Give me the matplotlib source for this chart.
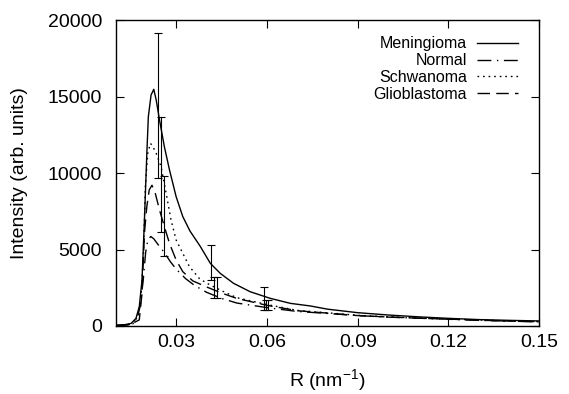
import matplotlib
matplotlib.use("Agg")
import matplotlib.pyplot as plt

plt.rcParams['font.family'] = ['Liberation Sans', 'DejaVu Sans']
plt.rcParams['mathtext.fontset'] = 'custom'
plt.rcParams['mathtext.rm'] = 'Liberation Sans'
plt.rcParams['mathtext.it'] = 'Liberation Sans:italic'
plt.rcParams['lines.scale_dashes'] = False

# --- datos ---
r_men = [0.010, 0.013, 0.015, 0.0166, 0.0177, 0.0186, 0.0194, 0.0202, 0.0207, 0.0216, 0.0225,
         0.0233, 0.0244, 0.026, 0.0277, 0.0299, 0.0321, 0.0345, 0.0379, 0.0412, 0.0445, 0.0489,
         0.0544, 0.061, 0.0677, 0.0743, 0.08, 0.09, 0.10, 0.11, 0.12, 0.13, 0.14, 0.15]
i_men = [50, 90, 170, 500, 1260, 3000, 6900, 11290, 13680, 15100, 15470,
         14770, 13460, 11720, 10200, 8450, 7150, 6200, 5200, 4100, 3440, 2790,
         2240, 1810, 1480, 1310, 1100, 870, 720, 600, 500, 420, 370, 330]

r_nor = [0.010, 0.013, 0.015, 0.017, 0.018, 0.019, 0.0198, 0.0205, 0.0215, 0.0225, 0.024,
         0.026, 0.028, 0.030, 0.033, 0.036, 0.040, 0.045, 0.050, 0.060, 0.070, 0.080,
         0.090, 0.10, 0.11, 0.12, 0.13, 0.14, 0.15]
i_nor = [30, 60, 120, 500, 1300, 3000, 4800, 5600, 5850, 5700, 5300,
         4800, 4200, 3700, 3100, 2650, 2200, 1800, 1500, 1200, 950, 820,
         680, 580, 510, 440, 370, 320, 270]

r_sch = [0.010, 0.013, 0.0155, 0.0172, 0.0183, 0.0191, 0.0197, 0.0205, 0.0214, 0.0222, 0.0233,
         0.0249, 0.0266, 0.0282, 0.0299, 0.0321, 0.0343, 0.0376, 0.040, 0.045, 0.050, 0.060,
         0.070, 0.080, 0.090, 0.10, 0.11, 0.12, 0.13, 0.14, 0.15]
i_sch = [30, 60, 130, 610, 1920, 4750, 9100, 11290, 11940, 11720, 11290,
         10420, 8670, 6930, 5620, 4750, 3880, 3100, 2800, 2300, 1850, 1400,
         1020, 860, 700, 600, 520, 460, 390, 330, 290]

r_gli = [0.010, 0.013, 0.015, 0.0177, 0.0186, 0.0194, 0.0202, 0.021, 0.0219, 0.023, 0.0244,
         0.026, 0.0277, 0.0299, 0.0321, 0.0354, 0.040, 0.045, 0.050, 0.060, 0.070, 0.080,
         0.090, 0.10, 0.11, 0.12, 0.13, 0.14, 0.15]
i_gli = [30, 60, 120, 400, 2130, 6060, 7810, 8900, 9200, 8670, 7580,
         6500, 5400, 4310, 3550, 2950, 2550, 2150, 1800, 1350, 1000, 840,
         680, 590, 510, 450, 380, 320, 280]

# barras de error (r, intensidad, error)
err_r = [0.0238, 0.0249, 0.0260, 0.0415, 0.0425, 0.0434, 0.0590, 0.0598, 0.0604]
err_i = [14400, 9910, 7190, 4150, 2520, 2520, 1800, 1370, 1370]
err_e = [4730, 3750, 2610, 1150, 700, 700, 750, 330, 330]

series = [
    ("Meningioma", r_men, i_men, "-"),
    ("Normal", r_nor, i_nor, (0, (10, 4, 1, 4))),
    ("Schwanoma", r_sch, i_sch, (0, (1.2, 2.8))),
    ("Glioblastoma", r_gli, i_gli, (0, (9, 4.5))),
]

fig = plt.figure(figsize=(5.69, 3.94), dpi=100)
ax = fig.add_axes([0.2039, 0.1726, 0.7434, 0.7766])

for nombre, r, inten, estilo in series:
    ax.plot(r, inten, color="black", linestyle=estilo, linewidth=1.0, label=nombre)

ax.errorbar(err_r, err_i, yerr=err_e, fmt="none", ecolor="black",
            elinewidth=0.8, capsize=3.2, capthick=0.8)

ax.set_xlim(0.01, 0.15)
ax.set_ylim(0, 20000)
ax.set_xticks([0.03, 0.06, 0.09, 0.12, 0.15])
ax.set_xticklabels(["0.03", "0.06", "0.09", "0.12", "0.15"])
ax.set_yticks([0, 5000, 10000, 15000, 20000])
ax.tick_params(direction="in", top=True, right=True, length=5.5, width=0.8,
               labelsize=14, colors="black")
ax.tick_params(axis="x", pad=6)
ax.tick_params(axis="y", pad=10)
for sp in ax.spines.values():
    sp.set_linewidth(1.0)

ax.set_xlabel("R (nm$^{\\mathrm{-1}}$)", fontsize=14, labelpad=11.5)
ax.set_ylabel("Intensity (arb. units)", fontsize=14, labelpad=14)

ax.legend(loc="upper right", bbox_to_anchor=(0.95, 0.947), markerfirst=False,
          frameon=False, fontsize=11.5, handlelength=2.55, handletextpad=0.62,
          labelspacing=0.12, borderpad=0, borderaxespad=0)

fig.savefig("out.png", dpi=100)
